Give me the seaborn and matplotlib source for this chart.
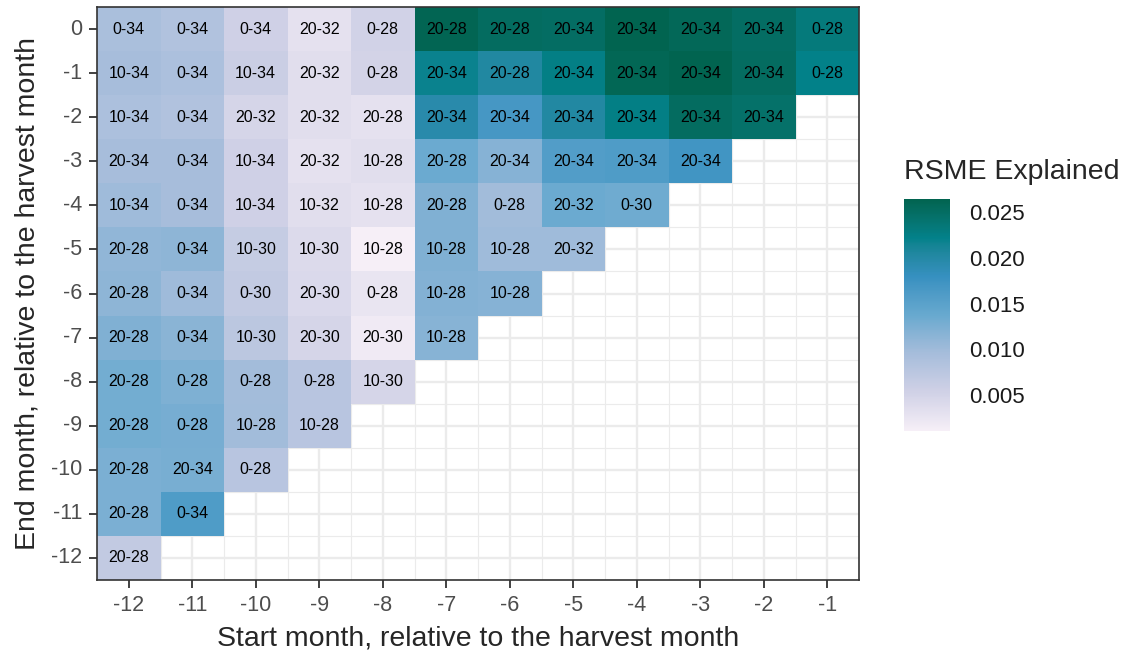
import numpy as np
import pandas as pd
import seaborn as sns
import matplotlib.pyplot as plt
from matplotlib.colors import ListedColormap, to_rgb

start_months = [-12, -11, -10, -9, -8, -7, -6, -5, -4, -3, -2, -1]
end_months = [0, -1, -2, -3, -4, -5, -6, -7, -8, -9, -10, -11, -12]

# RMSE explained per end month, starting at start month -12
rmse_end_0 = [0.0092, 0.0085, 0.0055, 0.0030, 0.0052, 0.0262, 0.0252, 0.0250, 0.0264, 0.0258, 0.0250, 0.0232]
rmse_end_1 = [0.0095, 0.0090, 0.0060, 0.0035, 0.0050, 0.0218, 0.0203, 0.0225, 0.0260, 0.0264, 0.0252, 0.0222]
rmse_end_2 = [0.0090, 0.0085, 0.0048, 0.0035, 0.0030, 0.0195, 0.0168, 0.0202, 0.0225, 0.0252, 0.0245]
rmse_end_3 = [0.0095, 0.0095, 0.0055, 0.0030, 0.0035, 0.0135, 0.0118, 0.0158, 0.0160, 0.0172]
rmse_end_4 = [0.0100, 0.0095, 0.0055, 0.0035, 0.0030, 0.0122, 0.0098, 0.0135, 0.0133]
rmse_end_5 = [0.0110, 0.0112, 0.0065, 0.0040, 0.0011, 0.0122, 0.0100, 0.0100]
rmse_end_6 = [0.0112, 0.0100, 0.0068, 0.0042, 0.0025, 0.0120, 0.0118]
rmse_end_7 = [0.0122, 0.0115, 0.0075, 0.0048, 0.0018, 0.0117]
rmse_end_8 = [0.0130, 0.0123, 0.0097, 0.0078, 0.0048]
rmse_end_9 = [0.0130, 0.0128, 0.0098, 0.0078]
rmse_end_10 = [0.0125, 0.0127, 0.0078]
rmse_end_11 = [0.0125, 0.0160]
rmse_end_12 = [0.0068]

# best window label per cell
win_end_0 = ["0-34", "0-34", "0-34", "20-32", "0-28", "20-28", "20-28", "20-34", "20-34", "20-34", "20-34", "0-28"]
win_end_1 = ["10-34", "0-34", "10-34", "20-32", "0-28", "20-34", "20-28", "20-34", "20-34", "20-34", "20-34", "0-28"]
win_end_2 = ["10-34", "0-34", "20-32", "20-32", "20-28", "20-34", "20-34", "20-34", "20-34", "20-34", "20-34"]
win_end_3 = ["20-34", "0-34", "10-34", "20-32", "10-28", "20-28", "20-34", "20-34", "20-34", "20-34"]
win_end_4 = ["10-34", "0-34", "10-34", "10-32", "10-28", "20-28", "0-28", "20-32", "0-30"]
win_end_5 = ["20-28", "0-34", "10-30", "10-30", "10-28", "10-28", "10-28", "20-32"]
win_end_6 = ["20-28", "0-34", "0-30", "20-30", "0-28", "10-28", "10-28"]
win_end_7 = ["20-28", "0-34", "10-30", "20-30", "20-30", "10-28"]
win_end_8 = ["20-28", "0-28", "0-28", "0-28", "10-30"]
win_end_9 = ["20-28", "0-28", "10-28", "10-28"]
win_end_10 = ["20-28", "20-34", "0-28"]
win_end_11 = ["20-28", "0-34"]
win_end_12 = ["20-28"]

rmse_rows = [rmse_end_0, rmse_end_1, rmse_end_2, rmse_end_3, rmse_end_4, rmse_end_5, rmse_end_6,
             rmse_end_7, rmse_end_8, rmse_end_9, rmse_end_10, rmse_end_11, rmse_end_12]
win_rows = [win_end_0, win_end_1, win_end_2, win_end_3, win_end_4, win_end_5, win_end_6,
            win_end_7, win_end_8, win_end_9, win_end_10, win_end_11, win_end_12]

n = len(start_months)
vals = pd.DataFrame([r + [np.nan] * (n - len(r)) for r in rmse_rows], index=end_months, columns=start_months)
labs = pd.DataFrame([w + [""] * (n - len(w)) for w in win_rows], index=end_months, columns=start_months)


# PuBuGn brewer palette (7 classes), interpolated in Lab like ggplot's scale_fill_distiller
def srgb_to_lab(c):
    c = np.asarray(c, float)
    lin = np.where(c <= 0.04045, c / 12.92, ((c + 0.055) / 1.055) ** 2.4)
    m = np.array([[0.4124, 0.3576, 0.1805], [0.2126, 0.7152, 0.0722], [0.0193, 0.1192, 0.9505]])
    xyz = lin @ m.T / np.array([0.95047, 1.0, 1.08883])
    f = np.where(xyz > 0.008856, np.cbrt(xyz), 7.787 * xyz + 16 / 116)
    return np.stack([116 * f[..., 1] - 16, 500 * (f[..., 0] - f[..., 1]), 200 * (f[..., 1] - f[..., 2])], -1)


def lab_to_srgb(lab):
    fy = (lab[..., 0] + 16) / 116
    fx = fy + lab[..., 1] / 500
    fz = fy - lab[..., 2] / 200
    f = np.stack([fx, fy, fz], -1)
    xyz = np.where(f ** 3 > 0.008856, f ** 3, (f - 16 / 116) / 7.787) * np.array([0.95047, 1.0, 1.08883])
    mi = np.linalg.inv(np.array([[0.4124, 0.3576, 0.1805], [0.2126, 0.7152, 0.0722], [0.0193, 0.1192, 0.9505]]))
    lin = np.clip(xyz @ mi.T, 0, 1)
    return np.clip(np.where(lin <= 0.0031308, 12.92 * lin, 1.055 * lin ** (1 / 2.4) - 0.055), 0, 1)


pubugn = ["#F6EFF7", "#D0D1E6", "#A6BDDB", "#67A9CF", "#3690C0", "#02818A", "#016450"]
stops = srgb_to_lab([to_rgb(c) for c in pubugn])
t = np.linspace(0, 1, 256)
pos = np.linspace(0, 1, len(pubugn))
lab = np.stack([np.interp(t, pos, stops[:, k]) for k in range(3)], -1)
cmap = ListedColormap(lab_to_srgb(lab))

sns.set_style("white")
plt.rcParams["font.family"] = ["Liberation Sans", "DejaVu Sans"]

fig = plt.figure(figsize=(11.3, 6.51), dpi=100)
ax = fig.add_axes([97 / 1130, 1 - 580 / 651, 762 / 1130, 573 / 651])
cax = fig.add_axes([904 / 1130, 1 - 431 / 651, 46 / 1130, 232 / 651])

sns.heatmap(vals, ax=ax, cbar_ax=cax, cmap=cmap, vmin=0.0011, vmax=0.0264,
            annot=labs, fmt="", annot_kws={"color": "black", "fontsize": 11.5})

# ggplot-like grid behind tiles
ax.set_axisbelow(True)
ax.set_xticks(np.arange(n) + 0.5)
ax.set_xticklabels(start_months, rotation=0)
ax.set_yticks(np.arange(len(end_months)) + 0.5)
ax.set_yticklabels(end_months, rotation=0)
ax.set_xticks(np.arange(n + 1), minor=True)
ax.set_yticks(np.arange(len(end_months) + 1), minor=True)
ax.grid(True, which="major", color="#EBEBEB", linewidth=1.7)
ax.grid(True, which="minor", color="#EBEBEB", linewidth=0.85)
ax.tick_params(which="minor", length=0)
ax.tick_params(which="major", length=5.5, width=1.3, color="#333333",
               labelsize=15.5, labelcolor="#4D4D4D", pad=5)
ax.tick_params(axis="x", bottom=True)
ax.tick_params(axis="y", left=True)
for s in ax.spines.values():
    s.set_visible(True)
    s.set_color("#333333")
    s.set_linewidth(1.2)

ax.set_xlabel("Start month, relative to the harvest month", fontsize=20.5, labelpad=7)
ax.set_ylabel("End month, relative to the harvest month", fontsize=20.5, labelpad=8)

# colorbar styling
cb = ax.collections[0].colorbar
cb.outline.set_visible(False)
cb.set_ticks([0.005, 0.010, 0.015, 0.020, 0.025])
cb.set_ticklabels(["0.005", "0.010", "0.015", "0.020", "0.025"])
cax.tick_params(left=True, right=True, direction="in", length=9, width=1,
                color="white", labelsize=16, labelcolor="#1A1A1A", pad=14)
fig.text(904 / 1130, 1 - 172 / 651, "RSME Explained", fontsize=20.5, va="center", ha="left")

fig.savefig("out.png", dpi=100)
